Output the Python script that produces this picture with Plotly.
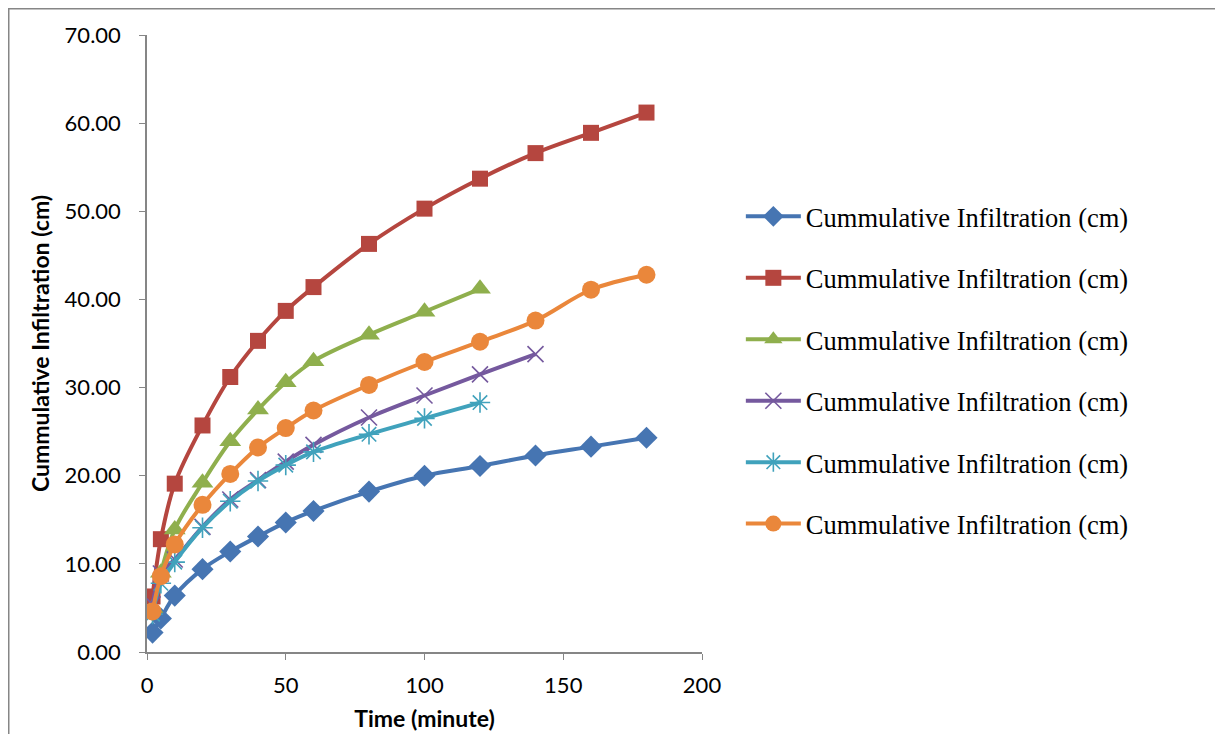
import plotly.graph_objects as go

time_a = [2, 5, 10, 20, 30, 40, 50, 60, 80, 100, 120, 140, 160, 180]
time_b = [2, 5, 10, 20, 30, 40, 50, 60, 80, 100, 120]
time_c = [2, 5, 10, 20, 30, 40, 50, 60, 80, 100, 120, 140]

s1 = [2.2, 3.8, 6.4, 9.4, 11.4, 13.1, 14.7, 16.0, 18.2, 20.0, 21.1, 22.3, 23.3, 24.3]
s2 = [6.3, 12.8, 19.1, 25.7, 31.2, 35.3, 38.7, 41.4, 46.3, 50.3, 53.7, 56.6, 58.9, 61.2]
s3 = [5.0, 9.0, 13.9, 19.2, 23.9, 27.5, 30.6, 33.0, 36.0, 38.6, 41.2]
s4 = [5.4, 8.9, 10.5, 14.2, 17.3, 19.5, 21.6, 23.5, 26.6, 29.1, 31.5, 33.8]
s5 = [4.3, 7.8, 10.2, 14.1, 17.1, 19.4, 21.2, 22.7, 24.7, 26.5, 28.3]
s6 = [4.6, 8.6, 12.2, 16.7, 20.2, 23.2, 25.4, 27.4, 30.3, 32.9, 35.2, 37.6, 41.1, 42.8]

name = "Cummulative Infiltration (cm)"
y_ticks = [0, 10, 20, 30, 40, 50, 60, 70]
x_ticks = [0, 50, 100, 150, 200]

series = [
    (time_a, s1, "#4675B2", "diamond", 17, False),
    (time_a, s2, "#B5463F", "square", 16, False),
    (time_b, s3, "#8FAF4D", "triangle-up", 19, False),
    (time_c, s4, "#75599E", "x-thin-open", 16, True),
    (time_b, s5, "#40A2BC", "asterisk-open", 17, True),
    (time_a, s6, "#EA873B", "circle", 18, False),
]

fig = go.Figure()
for i, (t, y, c, sym, sz, open_) in enumerate(series):
    marker = dict(symbol=sym, size=sz, color=c)
    if open_:
        marker["line"] = dict(color=c, width=1.6)
    else:
        marker["line"] = dict(color=c, width=0)
    fig.add_trace(go.Scatter(
        x=t, y=y, mode="lines+markers", name=name,
        line=dict(color=c, width=4, shape="spline"),
        marker=marker, legendgroup=f"g{i}",
    ))

L, T, W, H = 139, 27, 555, 617
axis_font = dict(family="Lato, 'Open Sans', sans-serif", size=22, color="black")
title_font = dict(family="Lato, sans-serif", size=23, color="black")
fig.update_layout(
    width=1223, height=734,
    paper_bgcolor="white", plot_bgcolor="white",
    margin=dict(l=L, r=1223 - L - W, t=T, b=734 - T - H),
    xaxis=dict(range=[0, 200], tickvals=x_ticks, ticktext=[str(v) for v in x_ticks],
               showgrid=False, zeroline=False, showline=True, linecolor="#868686", linewidth=1.5,
               ticks="outside", ticklen=6, tickcolor="#868686", tickfont=axis_font,
               ticklabelstandoff=7,
               title=dict(text="<b>Time (minute)</b>", font=title_font, standoff=14)),
    yaxis=dict(range=[0, 70], tickvals=y_ticks, ticktext=[f"{v:.2f}" for v in y_ticks],
               showgrid=False, zeroline=False, showline=True, linecolor="#868686", linewidth=1.5,
               ticks="outside", ticklen=6, tickcolor="#868686", tickfont=axis_font,
               ticklabelstandoff=14,
               title=dict(text="<b>Cummulative Infiltration (cm)</b>", font=title_font, standoff=9)),
    legend=dict(x=1.070, y=0.7445, xanchor="left", yanchor="top",
                font=dict(family="'Liberation Serif', 'Times New Roman', serif", size=26.5, color="black"),
                tracegroupgap=24, itemwidth=55, bgcolor="rgba(0,0,0,0)"),
    showlegend=True,
)
fig.add_shape(type="rect", xref="paper", yref="paper",
              x0=(0.75 - L) / W, x1=(1209 - L) / W, y0=(T + H - 740) / H, y1=(T + H - 0.75) / H,
              line=dict(color="#868686", width=1.5), fillcolor="rgba(0,0,0,0)", layer="below")
fig.write_html("out.html")
